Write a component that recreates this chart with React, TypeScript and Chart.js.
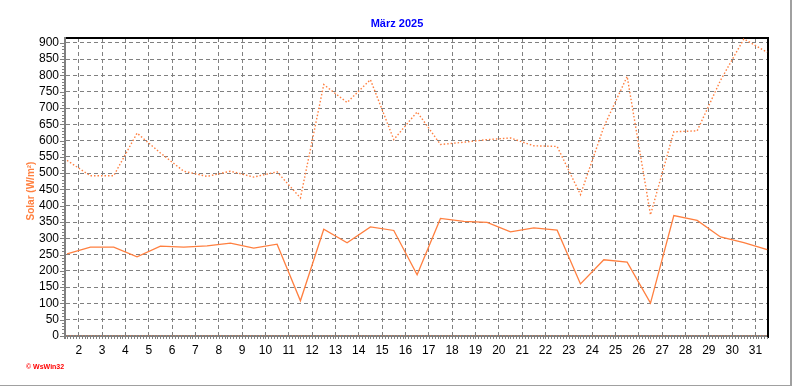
import React, { useEffect, useRef } from "react";
import { Chart, registerables } from "chart.js";

Chart.register(...registerables);

// ---- data ----
const days = [
  1, 2, 3, 4, 5, 6, 7, 8, 9, 10, 11, 12, 13, 14, 15, 16, 17, 18, 19, 20, 21,
  22, 23, 24, 25, 26, 27, 28, 29, 30, 31,
];
const solarAvg = [
  252, 273, 273, 243, 276, 273, 277, 285, 270, 282, 108, 328, 286, 335, 324,
  188, 361, 352, 349, 320, 332, 325, 160, 234, 227, 101, 370, 355, 304, 287,
  265,
];
const solarMax = [
  539, 492, 492, 623, 562, 506, 490, 506, 488, 504, 424, 772, 717, 787, 603,
  688, 588, 595, 603, 608, 584, 582, 434, 642, 797, 372, 627, 630, 785, 912,
  871,
];
const solarMin = [
  0, 0, 0, 0, 0, 0, 0, 0, 0, 0, 0, 0, 0, 0, 0, 0, 0, 0, 0, 0, 0, 0, 0, 0, 0,
  0, 0, 0, 0, 0, 0,
];
const xTickLabels = [
  2, 3, 4, 5, 6, 7, 8, 9, 10, 11, 12, 13, 14, 15, 16, 17, 18, 19, 20, 21, 22,
  23, 24, 25, 26, 27, 28, 29, 30, 31,
];
const yTickLabels = [
  0, 50, 100, 150, 200, 250, 300, 350, 400, 450, 500, 550, 600, 650, 700, 750,
  800, 850, 900,
];
const titleText = "März 2025";
const yTitleText = "Solar (W/m²)";
const creditText = "© WsWin32";

const ORANGE = "#ff7f3f";
const FONT = "'Liberation Sans', Arial, sans-serif";

const toPoints = (vals: number[]) =>
  days.map((d, i) => ({ x: d + 0.5, y: vals[i] }));

const decorPlugin = {
  id: "decor",
  beforeDraw(chart: any) {
    const ctx = chart.ctx;
    ctx.save();
    ctx.fillStyle = "#ffffff";
    ctx.fillRect(0, 0, chart.width, chart.height);
    ctx.restore();
  },
  beforeDatasetsDraw(chart: any) {
    const ctx = chart.ctx;
    const { left, right, top, bottom } = chart.chartArea;
    const ys = chart.scales.y;
    const xs = chart.scales.x;
    ctx.save();
    // frame
    ctx.fillStyle = "#000000";
    ctx.fillRect(left - 1, top - 1, right - left + 2, 2);
    ctx.fillRect(right - 1, top - 1, 2, bottom - top + 3);
    ctx.fillStyle = "#808080";
    ctx.fillRect(left - 2, top - 1, 2, bottom - top + 4);
    ctx.fillRect(left - 2, bottom - 1, right - left + 1, 2);
    // y minor / major ticks
    for (let v = 0; v <= 900; v += 10) {
      const y = Math.round(ys.getPixelForValue(v));
      const len = v % 50 === 0 ? 4 : 2;
      ctx.fillRect(left - 2 - len, y, len, 1);
    }
    // x minor ticks
    for (let k = Math.ceil(xs.min * 8); k <= Math.floor(xs.max * 8); k++) {
      const x = Math.round(xs.getPixelForValue(k / 8));
      ctx.fillRect(x, bottom + 1, 1, 2);
    }
    ctx.restore();
  },
  afterDraw(chart: any) {
    const ctx = chart.ctx;
    ctx.save();
    ctx.textAlign = "center";
    ctx.textBaseline = "middle";
    ctx.fillStyle = "#0000ff";
    ctx.font = `bold 11px ${FONT}`;
    ctx.fillText(titleText, 397, 24);

    ctx.save();
    ctx.translate(31, 191);
    ctx.rotate(-Math.PI / 2);
    ctx.fillStyle = "#ff8040";
    ctx.font = `bold 10px ${FONT}`;
    ctx.fillText(yTitleText, 0, 0);
    ctx.restore();

    ctx.textAlign = "left";
    ctx.fillStyle = "#ff0000";
    ctx.font = `bold 7px ${FONT}`;
    ctx.fillText(creditText, 26, 367);

    ctx.fillStyle = "#a0a0a0";
    ctx.fillRect(790, 0, 2, 386);
    ctx.fillRect(0, 385, 791, 1);
    ctx.restore();
  },
};

export default function App() {
  const ref = useRef<HTMLCanvasElement | null>(null);

  useEffect(() => {
    if (!ref.current) return;
    const chart = new Chart(ref.current, {
      type: "line",
      data: {
        datasets: [
          {
            label: "Min",
            data: toPoints(solarMin),
            borderColor: ORANGE,
            borderWidth: 1,
            borderDash: [1, 2],
            pointRadius: 0,
            tension: 0,
          },
          {
            label: "Max",
            data: toPoints(solarMax),
            borderColor: ORANGE,
            borderWidth: 1.4,
            borderDash: [1.5, 2],
            pointRadius: 0,
            tension: 0,
          },
          {
            label: "Mittel",
            data: toPoints(solarAvg),
            borderColor: ORANGE,
            borderWidth: 1.3,
            pointRadius: 0,
            tension: 0,
          },
        ],
      },
      options: {
        responsive: false,
        animation: false,
        devicePixelRatio: 1,
        layout: { padding: { top: 38, right: 24, left: 0, bottom: 0 } },
        plugins: {
          legend: { display: false },
          title: { display: false },
          tooltip: { enabled: false },
        },
        scales: {
          x: {
            type: "linear",
            min: 1.455,
            max: 31.535,
            afterBuildTicks: (s: any) => {
              s.ticks = xTickLabels.map((v) => ({ value: v }));
            },
            afterFit: (s: any) => {
              s.height = 51;
            },
            ticks: {
              autoSkip: false,
              maxRotation: 0,
              minRotation: 0,
              padding: 7,
              color: "#000000",
              font: { family: FONT, size: 12 },
            },
            grid: {
              color: "#808080",
              lineWidth: 1,
              drawTicks: false,
            },
            border: { display: false, dash: [4, 3] },
          },
          y: {
            type: "linear",
            min: 0,
            max: 915,
            afterBuildTicks: (s: any) => {
              s.ticks = yTickLabels.map((v) => ({ value: v }));
            },
            afterFit: (s: any) => {
              s.width = 66;
            },
            ticks: {
              autoSkip: false,
              padding: 7,
              color: "#000000",
              font: { family: FONT, size: 12 },
            },
            grid: {
              color: "#808080",
              lineWidth: 1,
              drawTicks: false,
            },
            border: { display: false, dash: [4, 3] },
          },
        },
      },
      plugins: [decorPlugin],
    });
    return () => chart.destroy();
  }, []);

  return (
    <div
      style={{
        position: "fixed",
        left: 0,
        top: 0,
        width: 792,
        height: 387,
        background: "#ffffff",
      }}
    >
      <canvas
        ref={ref}
        width={792}
        height={387}
        style={{ width: 792, height: 387, display: "block" }}
      />
    </div>
  );
}
